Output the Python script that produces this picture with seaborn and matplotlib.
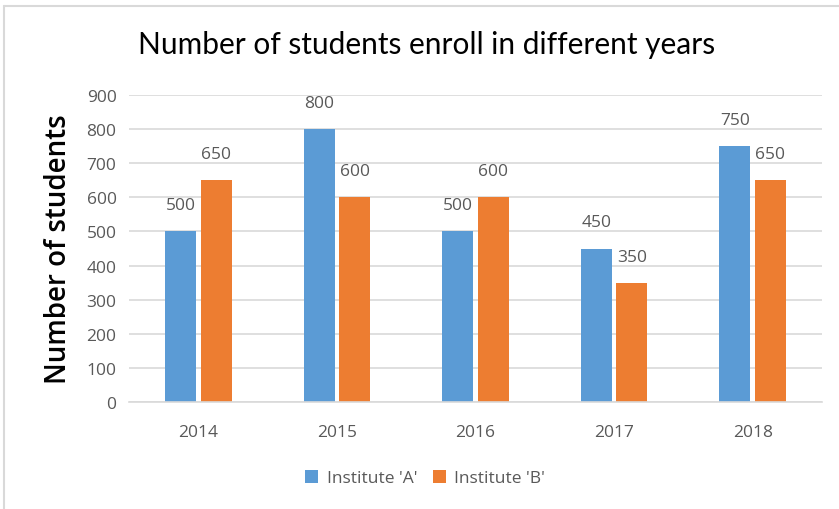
import matplotlib
matplotlib.use("Agg")
import matplotlib.pyplot as plt
from matplotlib.lines import Line2D
from matplotlib.patches import Patch
import seaborn as sns
import pandas as pd

years = ["2014", "2015", "2016", "2017", "2018"]
institute_a = [500, 800, 500, 450, 750]
institute_b = [650, 600, 600, 350, 650]
series_names = ["Institute 'A'", "Institute 'B'"]
y_ticks = [0, 100, 200, 300, 400, 500, 600, 700, 800, 900]

colors = ["#5B9BD5", "#ED7D31"]
text_gray = "#595959"
grid_gray = "#D9D9D9"
body_font = ["Open Sans", "DejaVu Sans"]

df = pd.DataFrame({
    "year": years * 2,
    "students": institute_a + institute_b,
    "institute": [series_names[0]] * len(years) + [series_names[1]] * len(years),
})

sns.set_style("white")
plt.rcParams["font.family"] = body_font

fig = plt.figure(figsize=(8.39, 5.10), dpi=100)
ax = fig.add_axes([129 / 839, 1 - 403 / 510, (822 - 129) / 839, (403 - 96) / 510])

sns.barplot(data=df, x="year", y="students", hue="institute", order=years,
            hue_order=series_names, palette=colors, width=0.513, gap=0.127,
            saturation=1, linewidth=0, edgecolor="none", ax=ax, legend=False)

ax.set_ylim(0, 900)
ax.set_yticks(y_ticks)
ax.set_xlim(-0.5, len(years) - 0.5)
ax.yaxis.grid(True, color=grid_gray, linewidth=1.2)
ax.set_axisbelow(True)
for side in ["top", "right", "left"]:
    ax.spines[side].set_visible(False)
ax.spines["bottom"].set_color(grid_gray)
ax.spines["bottom"].set_linewidth(1.2)
ax.tick_params(axis="both", length=0, colors=text_gray, labelsize=12.5)
ax.tick_params(axis="y", pad=9)
ax.tick_params(axis="x", pad=16)
for lbl in ax.get_xticklabels() + ax.get_yticklabels():
    lbl.set_family(body_font)
ax.set_xlabel("")
ax.set_ylabel("Number of students", fontsize=20, fontweight="semibold",
              color="black", labelpad=10, family=body_font)

for container in ax.containers:
    ax.bar_label(container, labels=[f"{int(v)}" for v in container.datavalues],
                 padding=13, color=text_gray, fontsize=12.5, family=body_font)

fig.text(427 / 839, 1 - 45 / 510, "Number of students enroll in different years",
         ha="center", va="center", fontsize=21.5, color="black",
         family=["Lato", "DejaVu Sans"])

handles = [Patch(facecolor=c, edgecolor="none") for c in colors]
fig.legend(handles, series_names, loc="center", bbox_to_anchor=(425 / 839, 1 - 479 / 510),
           ncol=2, frameon=False, handlelength=0.75, handleheight=0.75,
           handletextpad=0.5, columnspacing=0.9, labelcolor=text_gray,
           prop={"family": body_font, "size": 12.5})

# light chart-area frame on the top and left edges
fig.add_artist(Line2D([4 / 839, 4 / 839], [0, 1 - 7 / 510], color=grid_gray, linewidth=1.5,
                      transform=fig.transFigure))
fig.add_artist(Line2D([4 / 839, 1], [1 - 7 / 510, 1 - 7 / 510], color=grid_gray, linewidth=1.5,
                      transform=fig.transFigure))

fig.savefig("out.png", dpi=100)
